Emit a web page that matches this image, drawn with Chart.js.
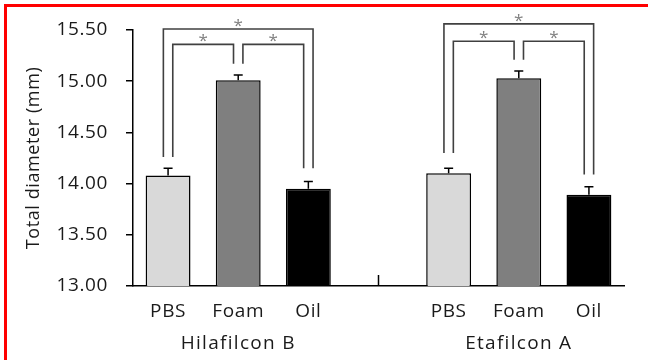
<!DOCTYPE html>
<html lang="en">
<head>
  <meta charset="UTF-8" />
  <title>Total diameter</title>
  <script src="https://cdn.jsdelivr.net/npm/chart.js"></script>
  <style>
    body {
      margin: 0;
      background: #ffffff;
    }
    #wrap {
      position: relative;
      width: 648px;
      height: 360px;
    }
    #frame {
      position: absolute;
      left: 4px;
      top: 4px;
      right: 0;
      bottom: 0;
      border-top: 3px solid #ff0000;
      border-left: 3px solid #ff0000;
      pointer-events: none;
    }
  </style>
</head>
<body>

<div id="wrap">
  <canvas id="diamChart"></canvas>
  <div id="frame"></div>
</div>

<script>
  // categories (blank slot in the middle separates the two lenses)
  const categories = ['PBS', 'Foam', 'Oil', '', 'PBS', 'Foam', 'Oil'];
  const groups = ['Hilafilcon B', 'Etafilcon A'];
  const groupCenters = [1, 5];

  const hilaMeans = [14.08, 15.01, 13.95];
  const hilaErr = [0.07, 0.05, 0.07];
  const etaMeans = [14.10, 15.03, 13.89];
  const etaErr = [0.05, 0.07, 0.08];

  const yTicks = [13.0, 13.5, 14.0, 14.5, 15.0, 15.5];

  // significance brackets: [from, to], top level, leg bottoms
  const bracketPairs = [[0, 2], [0, 1], [1, 2], [4, 6], [4, 5], [5, 6]];
  const bracketTops = [15.51, 15.36, 15.36, 15.56, 15.39, 15.39];
  const bracketLegs = [
    [14.26, 14.15], [14.26, 15.17], [15.17, 14.15],
    [14.30, 14.09], [14.30, 15.21], [15.21, 14.09]
  ];

  const means = [...hilaMeans, null, ...etaMeans];
  const errors = [...hilaErr, null, ...etaErr];
  const barColors = ['#d9d9d9', '#7f7f7f', '#000000', '#ffffff', '#d9d9d9', '#7f7f7f', '#000000'];

  const textColor = '#1a1a1a';
  const fontFamily = "'Open Sans', sans-serif";

  const overlay = {
    id: 'overlay',
    beforeDraw(chart) {
      chart.ctx.letterSpacing = '0.6px';
    },
    afterDatasetsDraw(chart) {
      const { ctx, chartArea } = chart;
      const x = chart.scales.x;
      const y = chart.scales.y;
      ctx.save();

      // error bars (upper only)
      ctx.strokeStyle = '#000';
      ctx.lineWidth = 1.5;
      means.forEach((m, i) => {
        if (m == null) return;
        const px = x.getPixelForValue(i);
        const y0 = y.getPixelForValue(m);
        const y1 = y.getPixelForValue(m + errors[i]);
        ctx.beginPath();
        ctx.moveTo(px, y0);
        ctx.lineTo(px, y1);
        ctx.moveTo(px - 4.5, y1);
        ctx.lineTo(px + 4.5, y1);
        ctx.stroke();
      });

      // separator tick between the two lenses
      const sx = x.getPixelForValue(3);
      ctx.beginPath();
      ctx.moveTo(sx, chartArea.bottom);
      ctx.lineTo(sx, chartArea.bottom - 11);
      ctx.stroke();

      // brackets
      ctx.strokeStyle = '#404040';
      ctx.lineWidth = 1.6;
      ctx.fillStyle = '#808080';
      ctx.font = '17px ' + fontFamily;
      ctx.textAlign = 'center';
      ctx.textBaseline = 'middle';
      ctx.letterSpacing = '0px';
      bracketPairs.forEach((p, i) => {
        const outer = p[1] - p[0] > 1;
        const off = 4.7;
        const lx = x.getPixelForValue(p[0]) + (outer ? -off : off);
        const rx = x.getPixelForValue(p[1]) + (outer ? off : -off);
        const ty = y.getPixelForValue(bracketTops[i]);
        ctx.beginPath();
        ctx.moveTo(lx, y.getPixelForValue(bracketLegs[i][0]));
        ctx.lineTo(lx, ty);
        ctx.lineTo(rx, ty);
        ctx.lineTo(rx, y.getPixelForValue(bracketLegs[i][1]));
        ctx.stroke();
        ctx.fillText('*', (lx + rx) / 2, ty - 3);
      });

      // group labels
      ctx.fillStyle = textColor;
      ctx.font = '500 19px ' + fontFamily;
      ctx.letterSpacing = '1.3px';
      groups.forEach((g, i) => {
        ctx.fillText(g, x.getPixelForValue(groupCenters[i]), chartArea.bottom + 58);
      });
      ctx.restore();
    }
  };

  const ctx = document.getElementById('diamChart').getContext('2d');
  const diamChart = new Chart(ctx, {
    type: 'bar',
    data: {
      labels: categories,
      datasets: [{
        data: means,
        backgroundColor: barColors,
        borderColor: '#000000',
        borderWidth: 1.5,
        barPercentage: 0.64,
        categoryPercentage: 1.0
      }]
    },
    options: {
      responsive: true,
      maintainAspectRatio: false,
      animation: false,
      layout: { padding: { left: 23, top: 30, right: 24, bottom: 0 } },
      plugins: {
        legend: { display: false },
        tooltip: { enabled: false }
      },
      scales: {
        x: {
          grid: { display: false, drawTicks: false },
          border: { display: true, color: '#000', width: 1.5 },
          ticks: {
            color: textColor,
            font: { family: fontFamily, size: 19, weight: 500 },
            padding: 14,
            autoSkip: false,
            maxRotation: 0
          },
          afterFit(scale) { scale.height = 74; }
        },
        y: {
          min: 13,
          max: 15.5,
          afterBuildTicks(scale) {
            scale.ticks = yTicks.map(v => ({ value: v }));
          },
          grid: { drawOnChartArea: false, drawTicks: true, tickLength: 7, color: '#000', lineWidth: 1.5 },
          border: { display: true, color: '#000', width: 1.5 },
          ticks: {
            color: textColor,
            font: { family: fontFamily, size: 19, weight: 500 },
            padding: 18,
            callback: v => Number(v).toFixed(2)
          },
          title: {
            display: true,
            text: 'Total diameter (mm)',
            color: textColor,
            font: { family: fontFamily, size: 18, weight: 500 },
            padding: 0
          },
          afterFit(scale) { scale.width = 110; }
        }
      }
    },
    plugins: [overlay]
  });
</script>

</body>
</html>
